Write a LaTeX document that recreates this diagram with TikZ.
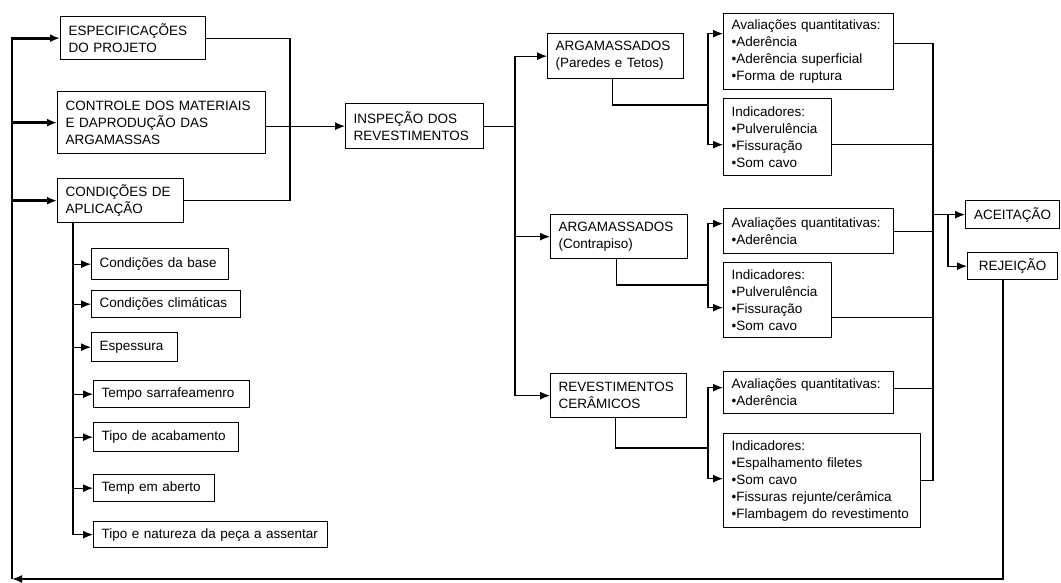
\documentclass[tikz,border=0pt]{standalone}
\usepackage{fontspec}
\setmainfont{Liberation Sans}
\usetikzlibrary{arrows.meta}

\tikzset{
  box/.style={draw, line width=1.3pt, anchor=north west, align=left,
    inner xsep=8pt, inner ysep=1pt, font=\fontsize{13.5}{17}\selectfont},
  result/.style={box, align=center, inner xsep=5pt},
  link/.style={line width=1.2pt},
  feed/.style={line width=1.8pt},
  feedin/.style={line width=2.8pt},
}

\begin{document}
\begin{tikzpicture}[x=1pt, y=-1pt, >={Latex[length=10pt,width=8pt]}]
\useasboundingbox (0,0) rectangle (1061,582);

% Inputs
\node[box, text width=129pt, minimum height=43pt] (espec) at (60,16) {ESPECIFICAÇÕES\\DO PROJETO};
\node[box, text width=192pt, minimum height=62pt] (controle) at (57,91) {CONTROLE DOS MATERIAIS\\E DAPRODUÇÃO DAS\\ARGAMASSAS};
\node[box, text width=110pt, minimum height=44pt] (condic) at (57,178) {CONDIÇÕES DE\\APLICAÇÃO};

% Application conditions
\node[box, text width=121pt, minimum height=31pt] (base) at (91,248) {Condições da base};
\node[box, text width=133pt, minimum height=27pt] (clima) at (91,290) {Condições climáticas};
\node[box, text width=70pt, minimum height=29pt] (espess) at (91,332) {Espessura};
\node[box, text width=140pt, minimum height=27pt] (sarraf) at (93,380) {Tempo sarrafeamenro};
\node[box, text width=129pt, minimum height=29pt] (acab) at (93,422) {Tipo de acabamento};
\node[box, text width=105pt, minimum height=27pt] (aberto) at (93,474) {Temp em aberto};
\node[box, text width=218pt, minimum height=26pt] (peca) at (93,521) {Tipo e natureza da peça a assentar};

% Inspection
\node[box, text width=122pt, minimum height=45pt] (inspec) at (345,103) {INSPEÇÃO DOS\\REVESTIMENTOS};

% Types of coating
\node[box, text width=120pt, minimum height=45pt] (arg1) at (547,33) {ARGAMASSADOS\\(Paredes e Tetos)};
\node[box, text width=121pt, minimum height=44pt] (arg2) at (550,214) {ARGAMASSADOS\\(Contrapiso)};
\node[box, text width=120pt, minimum height=44pt] (ceram) at (550,373) {REVESTIMENTOS\\CERÂMICOS};

% Evaluations
\node[box, text width=154pt, minimum height=76pt] (aval1) at (723,13) {Avaliações quantitativas:\\•Aderência\\•Aderência superficial\\•Forma de ruptura};
\node[box, text width=92pt, minimum height=77pt] (indic1) at (723,98) {Indicadores:\\•Pulverulência\\•Fissuração\\•Som cavo};
\node[box, text width=154pt, minimum height=45pt] (aval2) at (723,208) {Avaliações quantitativas:\\•Aderência};
\node[box, text width=92pt, minimum height=75pt] (indic2) at (723,262) {Indicadores:\\•Pulverulência\\•Fissuração\\•Som cavo};
\node[box, text width=154pt, minimum height=42pt] (aval3) at (723,371) {Avaliações quantitativas:\\•Aderência};
\node[box, text width=181pt, minimum height=94pt] (indic3) at (723,433) {Indicadores:\\•Espalhamento filetes\\•Som cavo\\•Fissuras rejunte/cerâmica\\•Flambagem do revestimento};

% Decision
\node[result, text width=84pt, minimum height=28pt] (aceit) at (965,200) {ACEITAÇÃO};
\node[result, text width=80pt, minimum height=27pt] (rejeic) at (967,252) {REJEIÇÃO};

% Helper coordinates
\coordinate (fbL) at (12,579);
\coordinate (mrg) at (290,0);
\coordinate (sub) at (73,0);
\coordinate (br1) at (515,0);
\coordinate (br2) at (708,0);
\coordinate (col) at (933,0);
\coordinate (sp) at (948,0);
\coordinate (j1) at (708,105);
\coordinate (j2) at (708,285);
\coordinate (j3) at (708,448);

% Feedback loop
\draw[feed, ->] ([xshift=-10pt]rejeic.south) |- (fbL);
\draw[feed] (fbL) -- (fbL |- espec.west);
\draw[feedin, ->] ([xshift=-0.9pt]fbL |- espec.west) -- (espec.west);
\draw[feedin, ->] (fbL |- controle.west) -- (controle.west);
\draw[feedin, ->] (fbL |- condic.west) -- (condic.west);

% Inputs to inspection
\draw[link] (espec.east) -| (mrg |- condic.east) -- (condic.east);
\draw[link, ->] (controle.east |- inspec.west) -- (inspec.west);

% Application conditions
\draw[link] (condic.south -| sub) -- (sub |- peca.west);
\draw[link, ->] (sub |- base.west) -- (base.west);
\draw[link, ->] (sub |- clima.west) -- (clima.west);
\draw[link, ->] (sub |- espess.west) -- (espess.west);
\draw[link, ->] (sub |- sarraf.west) -- (sarraf.west);
\draw[link, ->] (sub |- acab.west) -- (acab.west);
\draw[link, ->] (sub |- aberto.west) -- (aberto.west);
\draw[link, ->] (sub |- peca.west) -- (peca.west);

% Inspection branches
\draw[link, ->] (inspec.east) -| (br1 |- arg1.west) -- (arg1.west);
\draw[link, ->] (inspec.east) -| (br1 |- ceram.west) -- (ceram.west);
\draw[link, ->] (br1 |- arg2.west) -- (arg2.west);

% Coating to evaluations
\draw[link] ([xshift=-3pt]arg1.south) |- (j1);
\draw[link, ->] (j1) |- ([yshift=18pt]aval1.west);
\draw[link, ->] (j1) |- ([yshift=-7.5pt]indic1.west);
\draw[link] ([xshift=-3pt]arg2.south) |- (j2);
\draw[link, ->] (j2) |- ([yshift=7.5pt]aval2.west);
\draw[link, ->] (j2) |- ([yshift=-7.5pt]indic2.west);
\draw[link] ([xshift=-3pt]ceram.south) |- (j3);
\draw[link, ->] (j3) |- ([yshift=5pt]aval3.west);
\draw[link, ->] (j3) |- ([yshift=2pt]indic3.west);

% Evaluations to decision
\coordinate (a1o) at ([yshift=8pt]aval1.east);
\coordinate (i1o) at ([yshift=-7.5pt]indic1.east);
\coordinate (i2o) at ([yshift=-17.5pt]indic2.east);
\coordinate (a3o) at ([yshift=4pt]aval3.east);
\draw[link] (a1o) -| (col |- indic3.east) -- (indic3.east);
\draw[link] (i1o) -- (col |- i1o);
\draw[link] (aval2.east) -- (col |- aval2.east);
\draw[link] (i2o) -- (col |- i2o);
\draw[link] (a3o) -- (col |- a3o);
\draw[link, ->] (col |- aceit.west) -- (aceit.west);
\draw[link, ->] (sp |- aceit.west) |- (rejeic.west);

\end{tikzpicture}
\end{document}
